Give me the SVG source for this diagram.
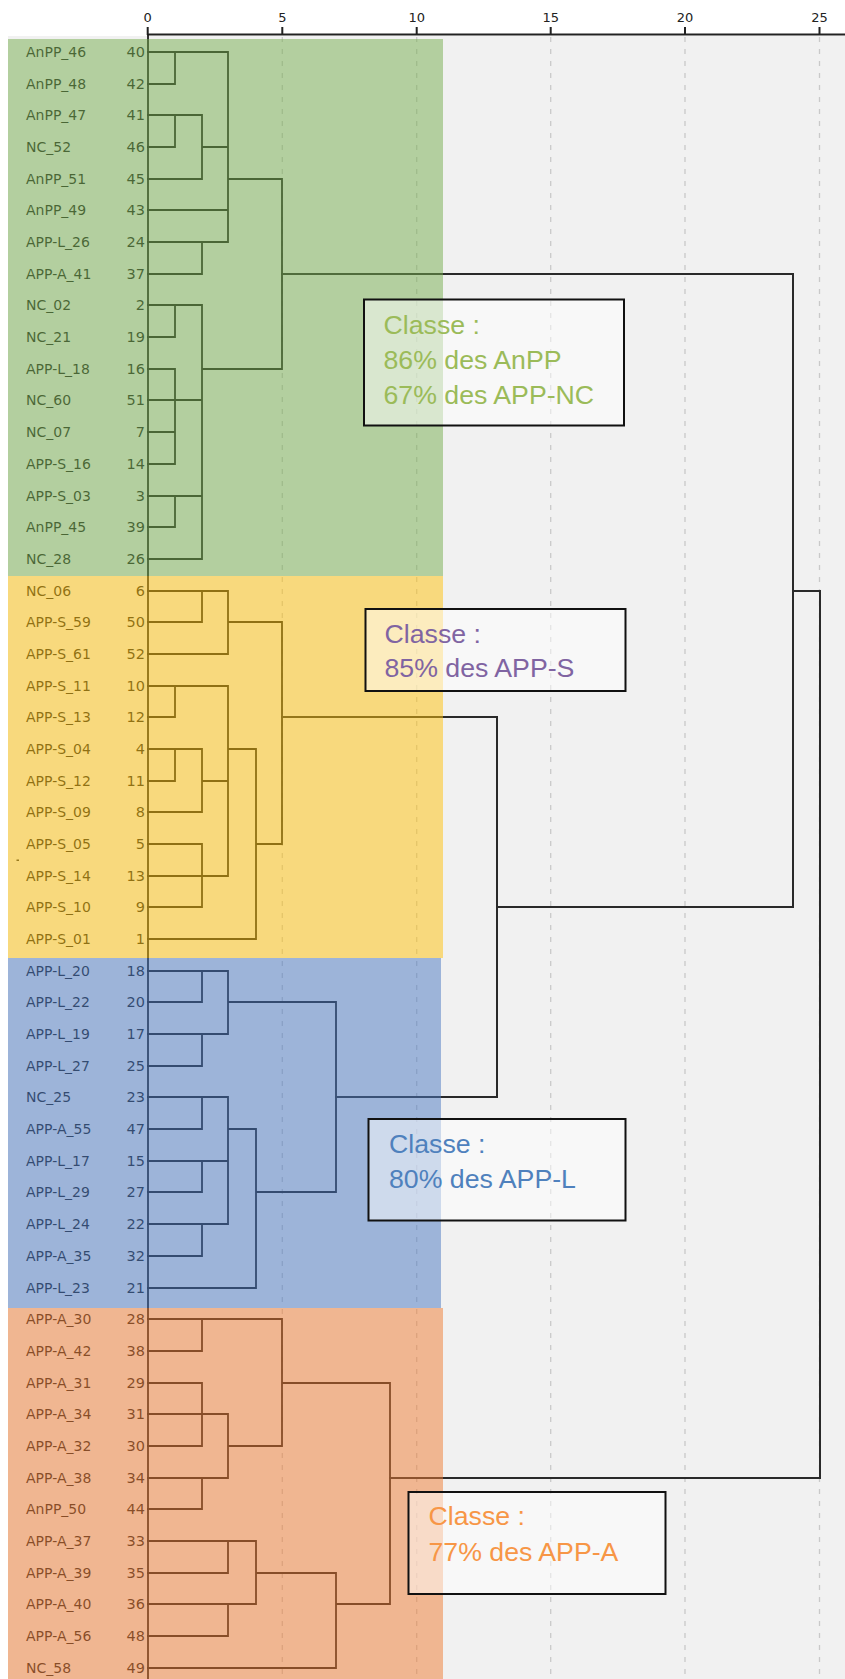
<svg xmlns="http://www.w3.org/2000/svg" width="845" height="1679" viewBox="0 0 845 1679">
<style>
.nm{font-family:"DejaVu Sans",Verdana,sans-serif;font-size:14px;fill:#1e1e1e}
.num{font-family:"DejaVu Sans",Verdana,sans-serif;font-size:14.5px;fill:#1e1e1e;text-anchor:end}
.tick{font-family:"DejaVu Sans",Verdana,sans-serif;font-size:13px;fill:#222;text-anchor:middle}
.ln{fill:none;stroke:#1e1e1e;stroke-width:1.8;stroke-linecap:square}
.main{fill:none;stroke:#2a2a2a;stroke-width:2;stroke-linecap:square}
.grid{stroke:#c9c9c9;stroke-width:1.3;stroke-dasharray:5 7}
.band{fill-opacity:0.5}
.box{fill:#fff;fill-opacity:0.5;stroke:#111;stroke-width:2}
.bt{font-family:"Liberation Sans",Arial,sans-serif;font-size:26.7px}
</style>
<rect x="0" y="0" width="845" height="1679" fill="#fff"/>
<rect x="8" y="36" width="837" height="1643" fill="#f1f1f1"/>
<g id="grid">
<line class="grid" x1="282.3" y1="37" x2="282.3" y2="1679"/>
<line class="grid" x1="416.7" y1="37" x2="416.7" y2="1679"/>
<line class="grid" x1="550.7" y1="37" x2="550.7" y2="1679"/>
<line class="grid" x1="685" y1="37" x2="685" y2="1679"/>
<line class="grid" x1="819.5" y1="37" x2="819.5" y2="1679"/>
</g>
<g id="axis">
<line x1="147" y1="34.5" x2="845" y2="34.5" stroke="#222" stroke-width="2"/>
<path d="M147.7 27V35 M282.3 27V35 M416.7 27V35 M550.7 27V35 M685 27V35 M819.5 27V35" stroke="#222" stroke-width="2"/>
<text class="tick" x="147.7" y="21.5">0</text>
<text class="tick" x="282.3" y="21.5">5</text>
<text class="tick" x="416.7" y="21.5">10</text>
<text class="tick" x="550.7" y="21.5">15</text>
<text class="tick" x="685" y="21.5">20</text>
<text class="tick" x="819.5" y="21.5">25</text>
</g>
<g id="connectors">
<path class="ln" d="M148 35V1679"/>
<path class="ln" d="M148 52H228 M148 84H175 M148 115H202 M148 147H175 M202 147H228 M148 179H202 M228 179H282 M148 210H228 M148 242H228 M148 274H202 M148 305H202 M148 337H175 M148 369H175 M202 369H282 M148 400H202 M148 432H175 M148 464H175 M148 496H202 M148 527H175 M148 559H202 M175 52V84 M175 115V147 M175 305V337 M175 369V464 M175 496V527 M202 115V179 M202 242V274 M202 305V559 M228 52V242 M282 179V369"/>
<path class="ln" d="M148 591H228 M148 622H202 M228 622H282 M148 654H228 M148 686H228 M148 717H175 M148 749H202 M228 749H256 M148 781H175 M202 781H228 M148 812H202 M148 844H202 M256 844H282 M148 876H228 M148 907H202 M148 939H256 M175 686V717 M175 749V781 M202 591V622 M202 749V812 M202 844V907 M228 591V654 M228 686V876 M256 749V939 M282 622V844"/>
<path class="ln" d="M148 971H228 M148 1002H202 M228 1002H336 M148 1034H228 M148 1066H202 M148 1097H228 M148 1129H202 M228 1129H256 M148 1161H228 M148 1192H202 M256 1192H336 M148 1224H228 M148 1256H202 M148 1288H256 M202 971V1002 M202 1034V1066 M202 1097V1129 M202 1161V1192 M202 1224V1256 M228 971V1034 M228 1097V1224 M256 1129V1288 M336 1002V1192"/>
<path class="ln" d="M148 1319H282 M148 1351H202 M148 1383H202 M282 1383H390 M148 1414H228 M148 1446H202 M228 1446H282 M148 1478H228 M148 1509H202 M148 1541H256 M148 1573H228 M256 1573H336 M148 1604H256 M336 1604H390 M148 1636H228 M148 1668H336 M202 1319V1351 M202 1383V1446 M202 1478V1509 M228 1414V1478 M228 1541V1573 M228 1604V1636 M256 1541V1604 M282 1319V1446 M336 1573V1668 M390 1383V1604"/>
<path class="main" d="M282 274H793 M793 274V907 M497 907H793 M282 717H497 M497 717V1097 M336 1097H497 M793 591H820 M820 591V1478 M390 1478H820"/>
</g>
<rect x="16.5" y="859.5" width="2.5" height="1.5" fill="#333"/>
<g id="leaves">
<g id="leaf-40"><text class="nm" x="26" y="57">AnPP_46</text><text class="num" x="145" y="57">40</text></g>
<g id="leaf-42"><text class="nm" x="26" y="89">AnPP_48</text><text class="num" x="145" y="89">42</text></g>
<g id="leaf-41"><text class="nm" x="26" y="120">AnPP_47</text><text class="num" x="145" y="120">41</text></g>
<g id="leaf-46"><text class="nm" x="26" y="152">NC_52</text><text class="num" x="145" y="152">46</text></g>
<g id="leaf-45"><text class="nm" x="26" y="184">AnPP_51</text><text class="num" x="145" y="184">45</text></g>
<g id="leaf-43"><text class="nm" x="26" y="215">AnPP_49</text><text class="num" x="145" y="215">43</text></g>
<g id="leaf-24"><text class="nm" x="26" y="247">APP-L_26</text><text class="num" x="145" y="247">24</text></g>
<g id="leaf-37"><text class="nm" x="26" y="279">APP-A_41</text><text class="num" x="145" y="279">37</text></g>
<g id="leaf-2"><text class="nm" x="26" y="310">NC_02</text><text class="num" x="145" y="310">2</text></g>
<g id="leaf-19"><text class="nm" x="26" y="342">NC_21</text><text class="num" x="145" y="342">19</text></g>
<g id="leaf-16"><text class="nm" x="26" y="374">APP-L_18</text><text class="num" x="145" y="374">16</text></g>
<g id="leaf-51"><text class="nm" x="26" y="405">NC_60</text><text class="num" x="145" y="405">51</text></g>
<g id="leaf-7"><text class="nm" x="26" y="437">NC_07</text><text class="num" x="145" y="437">7</text></g>
<g id="leaf-14"><text class="nm" x="26" y="469">APP-S_16</text><text class="num" x="145" y="469">14</text></g>
<g id="leaf-3"><text class="nm" x="26" y="501">APP-S_03</text><text class="num" x="145" y="501">3</text></g>
<g id="leaf-39"><text class="nm" x="26" y="532">AnPP_45</text><text class="num" x="145" y="532">39</text></g>
<g id="leaf-26"><text class="nm" x="26" y="564">NC_28</text><text class="num" x="145" y="564">26</text></g>
<g id="leaf-6"><text class="nm" x="26" y="596">NC_06</text><text class="num" x="145" y="596">6</text></g>
<g id="leaf-50"><text class="nm" x="26" y="627">APP-S_59</text><text class="num" x="145" y="627">50</text></g>
<g id="leaf-52"><text class="nm" x="26" y="659">APP-S_61</text><text class="num" x="145" y="659">52</text></g>
<g id="leaf-10"><text class="nm" x="26" y="691">APP-S_11</text><text class="num" x="145" y="691">10</text></g>
<g id="leaf-12"><text class="nm" x="26" y="722">APP-S_13</text><text class="num" x="145" y="722">12</text></g>
<g id="leaf-4"><text class="nm" x="26" y="754">APP-S_04</text><text class="num" x="145" y="754">4</text></g>
<g id="leaf-11"><text class="nm" x="26" y="786">APP-S_12</text><text class="num" x="145" y="786">11</text></g>
<g id="leaf-8"><text class="nm" x="26" y="817">APP-S_09</text><text class="num" x="145" y="817">8</text></g>
<g id="leaf-5"><text class="nm" x="26" y="849">APP-S_05</text><text class="num" x="145" y="849">5</text></g>
<g id="leaf-13"><text class="nm" x="26" y="881">APP-S_14</text><text class="num" x="145" y="881">13</text></g>
<g id="leaf-9"><text class="nm" x="26" y="912">APP-S_10</text><text class="num" x="145" y="912">9</text></g>
<g id="leaf-1"><text class="nm" x="26" y="944">APP-S_01</text><text class="num" x="145" y="944">1</text></g>
<g id="leaf-18"><text class="nm" x="26" y="976">APP-L_20</text><text class="num" x="145" y="976">18</text></g>
<g id="leaf-20"><text class="nm" x="26" y="1007">APP-L_22</text><text class="num" x="145" y="1007">20</text></g>
<g id="leaf-17"><text class="nm" x="26" y="1039">APP-L_19</text><text class="num" x="145" y="1039">17</text></g>
<g id="leaf-25"><text class="nm" x="26" y="1071">APP-L_27</text><text class="num" x="145" y="1071">25</text></g>
<g id="leaf-23"><text class="nm" x="26" y="1102">NC_25</text><text class="num" x="145" y="1102">23</text></g>
<g id="leaf-47"><text class="nm" x="26" y="1134">APP-A_55</text><text class="num" x="145" y="1134">47</text></g>
<g id="leaf-15"><text class="nm" x="26" y="1166">APP-L_17</text><text class="num" x="145" y="1166">15</text></g>
<g id="leaf-27"><text class="nm" x="26" y="1197">APP-L_29</text><text class="num" x="145" y="1197">27</text></g>
<g id="leaf-22"><text class="nm" x="26" y="1229">APP-L_24</text><text class="num" x="145" y="1229">22</text></g>
<g id="leaf-32"><text class="nm" x="26" y="1261">APP-A_35</text><text class="num" x="145" y="1261">32</text></g>
<g id="leaf-21"><text class="nm" x="26" y="1293">APP-L_23</text><text class="num" x="145" y="1293">21</text></g>
<g id="leaf-28"><text class="nm" x="26" y="1324">APP-A_30</text><text class="num" x="145" y="1324">28</text></g>
<g id="leaf-38"><text class="nm" x="26" y="1356">APP-A_42</text><text class="num" x="145" y="1356">38</text></g>
<g id="leaf-29"><text class="nm" x="26" y="1388">APP-A_31</text><text class="num" x="145" y="1388">29</text></g>
<g id="leaf-31"><text class="nm" x="26" y="1419">APP-A_34</text><text class="num" x="145" y="1419">31</text></g>
<g id="leaf-30"><text class="nm" x="26" y="1451">APP-A_32</text><text class="num" x="145" y="1451">30</text></g>
<g id="leaf-34"><text class="nm" x="26" y="1483">APP-A_38</text><text class="num" x="145" y="1483">34</text></g>
<g id="leaf-44"><text class="nm" x="26" y="1514">AnPP_50</text><text class="num" x="145" y="1514">44</text></g>
<g id="leaf-33"><text class="nm" x="26" y="1546">APP-A_37</text><text class="num" x="145" y="1546">33</text></g>
<g id="leaf-35"><text class="nm" x="26" y="1578">APP-A_39</text><text class="num" x="145" y="1578">35</text></g>
<g id="leaf-36"><text class="nm" x="26" y="1609">APP-A_40</text><text class="num" x="145" y="1609">36</text></g>
<g id="leaf-48"><text class="nm" x="26" y="1641">APP-A_56</text><text class="num" x="145" y="1641">48</text></g>
<g id="leaf-49"><text class="nm" x="26" y="1673">NC_58</text><text class="num" x="145" y="1673">49</text></g>
</g>
<g id="bands">
<rect class="band" x="8" y="39" width="435" height="537" fill="#75ad4d"/>
<rect class="band" x="8" y="576" width="435" height="382" fill="#ffc109"/>
<rect class="band" x="8" y="958" width="433" height="350" fill="#4977c1"/>
<rect class="band" x="8" y="1308" width="435" height="371" fill="#ef7b31"/>
</g>
<g id="class-green">
<rect class="box" x="364" y="299.5" width="260" height="126"/>
<text class="bt" x="383.5" y="334" fill="#9bbb59">Classe :</text>
<text class="bt" x="383.5" y="368.5" fill="#9bbb59">86% des AnPP</text>
<text class="bt" x="383.5" y="403.5" fill="#9bbb59">67% des APP-NC</text>
</g>
<g id="class-yellow">
<rect class="box" x="365.5" y="609" width="260" height="82"/>
<text class="bt" x="384.5" y="642.5" fill="#8064a2">Classe :</text>
<text class="bt" x="384.5" y="677" fill="#8064a2">85% des APP-S</text>
</g>
<g id="class-blue">
<rect class="box" x="368.5" y="1119" width="257" height="101.5"/>
<text class="bt" x="389" y="1153" fill="#4f81bd">Classe :</text>
<text class="bt" x="389" y="1188" fill="#4f81bd">80% des APP-L</text>
</g>
<g id="class-orange">
<rect class="box" x="408.5" y="1492" width="257" height="102"/>
<text class="bt" x="428.5" y="1525" fill="#f79646">Classe :</text>
<text class="bt" x="428.5" y="1561" fill="#f79646">77% des APP-A</text>
</g>
</svg>
